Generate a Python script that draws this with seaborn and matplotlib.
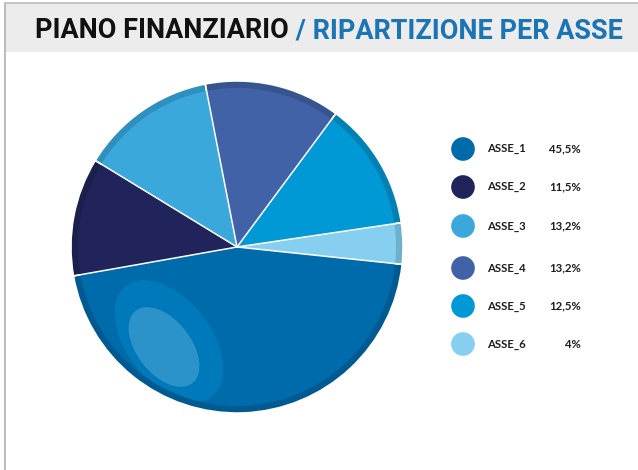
import matplotlib
matplotlib.use("Agg")
import matplotlib.pyplot as plt
import numpy as np
import pandas as pd
import seaborn as sns
from matplotlib.patches import Ellipse, Rectangle

# data
labels = ["ASSE_1", "ASSE_2", "ASSE_3", "ASSE_4", "ASSE_5", "ASSE_6"]
shares = [45.5, 11.5, 13.2, 13.2, 12.5, 4.0]
share_text = ["45,5%", "11,5%", "13,2%", "13,2%", "12,5%", "4%"]
colors = ["#006bab", "#20245a", "#3aa8db", "#4262a8", "#0099d5", "#86cff0"]
rim_colors = ["#005a92", "#1b1f4c", "#2f8fbf", "#38548f", "#0080b3", "#6eb1cf"]

title_left = "PIANO FINANZIARIO"
title_right = " / RIPARTIZIONE PER ASSE"

sns.set_theme(style="white")
plt.rcParams["font.family"] = ["Lato", "DejaVu Sans"]

W, H = 638, 470
fig = plt.figure(figsize=(W / 100, H / 100), dpi=100)
fig.patch.set_facecolor("white")

# background layer in pixel coordinates (y down)
bg = fig.add_axes([0, 0, 1, 1])
bg.set_xlim(0, W)
bg.set_ylim(H, 0)
bg.axis("off")
bg.add_patch(Rectangle((5, 3), W - 5, 49, facecolor="#ececec", edgecolor="none"))
bg.plot([5, W], [3, 3], color="#bdbdbd", lw=1.2)
bg.plot([5, 5], [3, H], color="#bdbdbd", lw=1.5)

# title in two colours, fitted to the band width
renderer = fig.canvas.get_renderer()
size = 20
title_fam = ["Liberation Sans Narrow", "Roboto", "DejaVu Sans"]
t1 = bg.text(35, 31, title_left, fontsize=size, fontweight="bold",
             family=title_fam, color="#111111", va="center", ha="left")
t2 = bg.text(0, 31, title_right, fontsize=size, fontweight="bold",
             family=title_fam, color="#1b74b4", va="center", ha="left")
w1 = t1.get_window_extent(renderer).width
w2 = t2.get_window_extent(renderer).width
size = size * 585 / (w1 + w2)
t1.set_fontsize(size)
t2.set_fontsize(size)
w1 = t1.get_window_extent(renderer).width
t2.set_x(35 + w1)

# legend
leg = pd.DataFrame({"label": labels, "text": share_text,
                    "y": [149, 187, 226, 268, 306, 344]})
leg["x"] = 463
sns.scatterplot(data=leg, x="x", y="y", hue="label", palette=colors,
                s=290, edgecolor="none", legend=False, ax=bg)
for _, row in leg.iterrows():
    bg.text(487, row["y"], row["label"], fontsize=8.2, color="#1e1e1e",
            va="center", ha="left", fontweight="bold")
    bg.text(581, row["y"], row["text"], fontsize=8.2, color="#1e1e1e",
            va="center", ha="right", fontweight="bold")
bg.set_xlim(0, W)
bg.set_ylim(H, 0)

# pie, center (237, 247) px, radius 166 px
ax = fig.add_axes([67 / W, 53 / H, 340 / W, 340 / H])
rim, _ = ax.pie(shares, colors=rim_colors, radius=166, startangle=-6,
                counterclock=False,
                wedgeprops=dict(edgecolor="white", linewidth=1.1))
main, _ = ax.pie(shares, colors=colors, radius=159, startangle=-6,
                 counterclock=False, wedgeprops=dict(edgecolor="none"))
for w in main:
    a = np.deg2rad(w.theta1)
    ax.plot([0, 166 * np.cos(a)], [0, 166 * np.sin(a)], color="white",
            lw=1.1, solid_capstyle="butt")

# glossy highlight on the largest slice
outer = Ellipse((-68, -94), 140, 84, angle=-52, facecolor="#0079bb",
                edgecolor="none")
inner = Ellipse((-73, -100), 92, 54, angle=-52, facecolor="#2b93c9",
                edgecolor="none")
for e in (outer, inner):
    ax.add_patch(e)
    e.set_clip_path(main[0])

ax.set_xlim(-170, 170)
ax.set_ylim(-170, 170)
ax.set_aspect("equal")
ax.axis("off")

fig.savefig("out.png", dpi=100, facecolor="white")
